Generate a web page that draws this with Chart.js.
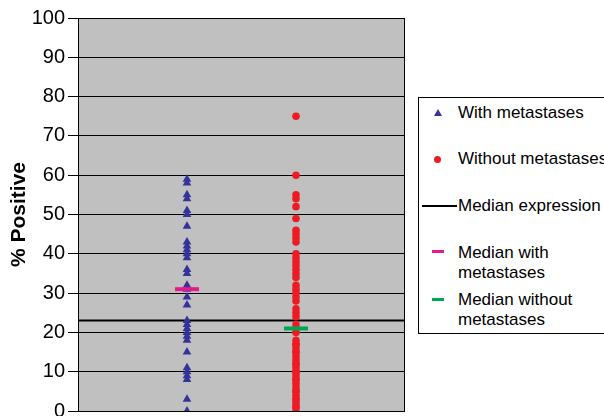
<!DOCTYPE html>
<html>
<head>
<meta charset="utf-8">
<script src="https://cdn.jsdelivr.net/npm/chart.js@4.4.1/dist/chart.umd.min.js"></script>
<style>
  html, body { margin: 0; padding: 0; background: #fff; overflow: hidden; }
  #wrap { position: relative; width: 604px; height: 430px; }
  .legend {
    position: absolute; left: 418px; top: 97px; width: 200px; height: 235px;
    border: 1px solid #000; background: #fff;
    font-family: "Liberation Sans", Arial, sans-serif; font-size: 17px; color: #000;
  }
  .legend .txt { position: absolute; left: 39px; line-height: 20px; white-space: nowrap; }
  .legend .mk { position: absolute; }
  .tri { width: 0; height: 0; border-left: 4px solid transparent; border-right: 4px solid transparent; border-bottom: 7px solid #333399; }
  .dot { width: 7px; height: 7px; border-radius: 50%; background: #ed1c24; }
</style>
</head>
<body>
<div id="wrap">
  <canvas id="chart" width="604" height="430"></canvas>
  <div class="legend">
    <div class="mk tri" style="left:15px; top:11px;"></div>
    <div class="txt" style="top:5px;">With metastases</div>
    <div class="mk dot" style="left:15px; top:58px;"></div>
    <div class="txt" style="top:51px;">Without metastases</div>
    <div class="mk" style="left:3px; top:107px; width:35px; height:2px; background:#000;"></div>
    <div class="txt" style="top:98px;">Median expression</div>
    <div class="mk" style="left:13px; top:152px; width:12px; height:3px; background:#e6198c;"></div>
    <div class="txt" style="top:145px; line-height:19.5px;">Median with<br>metastases</div>
    <div class="mk" style="left:13px; top:200px; width:12px; height:3px; background:#00a651;"></div>
    <div class="txt" style="top:192px; line-height:19.5px;">Median without<br>metastases</div>
  </div>
</div>
<script>
// values (% positive)
const withMetastases = [59, 58, 55, 54, 51, 50, 47, 43, 42, 41, 40, 39, 36, 35, 32,
  31, 29, 27, 23, 22, 21, 20, 19, 18, 15, 11, 10, 9, 8, 3, 0];
const withoutMetastases = [75, 60, 55, 54, 52, 49, 46, 45, 44, 43, 40, 39, 38, 37, 36,
  35, 34, 32, 31, 30, 29, 28, 26, 25, 24, 22, 21, 20, 18, 17, 17, 16, 15, 15, 14, 13,
  12, 12, 11, 10, 10, 9, 8, 8, 7, 6, 5, 5, 4, 3, 3, 2, 1, 1, 0];
const medianExpression = 23;
const medianWith = 31;
const medianWithout = 21;
const groupX = [1, 2];
const yTicks = [0, 10, 20, 30, 40, 50, 60, 70, 80, 90, 100];

const FONT = "'Liberation Sans', Arial, sans-serif";

// grey plot background + frame
const plotFrame = {
  id: "plotFrame",
  beforeDraw(chart) {
    const a = chart.chartArea;
    const ctx = chart.ctx;
    ctx.save();
    ctx.fillStyle = "#c0c0c0";
    ctx.fillRect(a.left, a.top, a.right - a.left, a.bottom - a.top);
    ctx.restore();
  },
  afterDraw(chart) {
    const a = chart.chartArea;
    const ctx = chart.ctx;
    ctx.save();
    ctx.strokeStyle = "#000";
    ctx.lineWidth = 1;
    ctx.strokeRect(a.left + 0.5, a.top + 0.5, a.right - a.left - 1, a.bottom - a.top);
    ctx.restore();
  },
};

const ctx = document.getElementById("chart").getContext("2d");
new Chart(ctx, {
  type: "scatter",
  data: {
    datasets: [
      {
        label: "Median with metastases",
        type: "line",
        data: [{ x: groupX[0] - 0.11, y: medianWith }, { x: groupX[0] + 0.11, y: medianWith }],
        borderColor: "#e6198c",
        borderWidth: 4,
        pointRadius: 0,
        order: 0,
      },
      {
        label: "Median without metastases",
        type: "line",
        data: [{ x: groupX[1] - 0.11, y: medianWithout }, { x: groupX[1] + 0.11, y: medianWithout }],
        borderColor: "#00a651",
        borderWidth: 4,
        pointRadius: 0,
        order: 0,
      },
      {
        label: "With metastases",
        data: withMetastases.map((v) => ({ x: groupX[0], y: v })),
        pointStyle: "triangle",
        pointRadius: 5,
        backgroundColor: "#333399",
        borderColor: "#333399",
        borderWidth: 0,
        order: 1,
      },
      {
        label: "Without metastases",
        data: withoutMetastases.map((v) => ({ x: groupX[1], y: v })),
        pointStyle: "circle",
        pointRadius: 3.8,
        backgroundColor: "#ed1c24",
        borderColor: "#ed1c24",
        borderWidth: 0,
        order: 1,
      },
      {
        label: "Median expression",
        type: "line",
        data: [{ x: 0, y: medianExpression }, { x: 3, y: medianExpression }],
        borderColor: "#000",
        borderWidth: 2,
        pointRadius: 0,
        order: 2,
      },
    ],
  },
  options: {
    responsive: false,
    animation: false,
    layout: { padding: { top: 18, right: 199, bottom: 19, left: 0 } },
    plugins: { legend: { display: false }, tooltip: { enabled: false } },
    scales: {
      x: { type: "linear", min: 0, max: 3, display: false },
      y: {
        min: 0,
        max: 100,
        afterBuildTicks: (scale) => {
          scale.ticks = yTicks.map((v) => ({ value: v }));
        },
        afterFit: (scale) => {
          scale.width = 78;
        },
        ticks: {
          color: "#000",
          padding: 3,
          font: { family: FONT, size: 20 },
        },
        grid: { color: "#000", lineWidth: 1, tickLength: 10 },
        border: { color: "#000", width: 1 },
        title: {
          display: true,
          text: "% Positive",
          color: "#000",
          padding: { top: 7, bottom: 0 },
          font: { family: FONT, size: 21, weight: "bold" },
        },
      },
    },
  },
  plugins: [plotFrame],
});
</script>
</body>
</html>
